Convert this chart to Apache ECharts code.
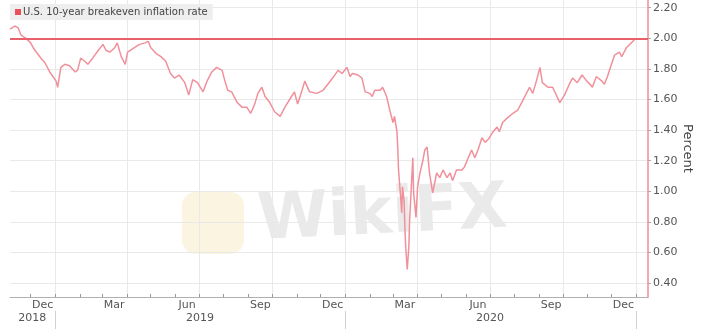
<!DOCTYPE html>
<html>
<head>
<meta charset="utf-8">
<script src="https://cdn.jsdelivr.net/npm/echarts@6/dist/echarts.min.js"></script>
<style>
html,body{margin:0;padding:0;background:#fff;}
#chart{width:720px;height:329px;}
</style>
</head>
<body>
<div id="chart"></div>
<script>
// ---- data ----
var seriesName = 'U.S. 10-year breakeven inflation rate';
var dates = [
 '2018-11-05','2018-11-11','2018-11-15','2018-11-19','2018-11-25','2018-12-01','2018-12-04','2018-12-08','2018-12-14','2018-12-19',
 '2018-12-25','2018-12-29','2019-01-02','2019-01-04','2019-01-08','2019-01-13','2019-01-19','2019-01-26','2019-01-29','2019-02-02',
 '2019-02-07','2019-02-11','2019-02-17','2019-02-24','2019-03-02','2019-03-06','2019-03-11','2019-03-17','2019-03-20','2019-03-25',
 '2019-03-30','2019-04-02','2019-04-11','2019-04-17','2019-04-24','2019-04-28','2019-05-01','2019-05-08','2019-05-14','2019-05-20',
 '2019-05-26','2019-05-31','2019-06-06','2019-06-13','2019-06-18','2019-06-23','2019-06-29','2019-07-06','2019-07-11','2019-07-17',
 '2019-07-23','2019-07-30','2019-08-02','2019-08-06','2019-08-11','2019-08-18','2019-08-24','2019-08-30','2019-09-04','2019-09-09',
 '2019-09-13','2019-09-18','2019-09-22','2019-09-28','2019-10-04','2019-10-11','2019-10-17','2019-10-23','2019-10-29','2019-11-02',
 '2019-11-07','2019-11-11','2019-11-17','2019-11-26','2019-12-04','2019-12-10','2019-12-16','2019-12-23','2019-12-28','2020-01-03',
 '2020-01-07','2020-01-10','2020-01-17','2020-01-22','2020-01-26','2020-02-01','2020-02-04','2020-02-07','2020-02-14','2020-02-17',
 '2020-02-22','2020-02-26','2020-03-01','2020-03-03','2020-03-06','2020-03-07','2020-03-08','2020-03-11','2020-03-12','2020-03-13',
 '2020-03-15','2020-03-16','2020-03-17','2020-03-19','2020-03-21','2020-03-22','2020-03-25','2020-03-26','2020-03-27','2020-03-30',
 '2020-04-01','2020-04-04','2020-04-08','2020-04-10','2020-04-13','2020-04-16','2020-04-20','2020-04-25','2020-04-29','2020-05-03',
 '2020-05-08','2020-05-12','2020-05-15','2020-05-20','2020-05-27','2020-05-30','2020-06-03','2020-06-08','2020-06-12','2020-06-16',
 '2020-06-21','2020-06-25','2020-06-29','2020-07-05','2020-07-10','2020-07-13','2020-07-17','2020-07-23','2020-07-30','2020-08-05',
 '2020-08-10','2020-08-16','2020-08-20','2020-08-24','2020-08-29','2020-09-02','2020-09-05','2020-09-12','2020-09-18','2020-09-27',
 '2020-10-03','2020-10-09','2020-10-13','2020-10-19','2020-10-25','2020-10-31','2020-11-04','2020-11-07','2020-11-12','2020-11-19',
 '2020-11-22','2020-11-26','2020-12-01','2020-12-05','2020-12-11','2020-12-14','2020-12-20','2020-12-26','2020-12-30'
];
var values = [
 2.06,2.08,2.07,2.02,2.00,1.97,1.94,1.91,1.87,1.84,
 1.78,1.75,1.72,1.68,1.81,1.83,1.82,1.78,1.79,1.87,
 1.85,1.83,1.87,1.92,1.96,1.92,1.91,1.94,1.97,1.88,
 1.83,1.91,1.94,1.96,1.97,1.98,1.94,1.90,1.88,1.85,
 1.77,1.74,1.76,1.71,1.63,1.73,1.71,1.65,1.72,1.78,
 1.81,1.79,1.73,1.66,1.65,1.58,1.55,1.55,1.51,1.57,
 1.64,1.68,1.62,1.58,1.52,1.49,1.55,1.60,1.65,1.57,
 1.65,1.72,1.65,1.64,1.66,1.70,1.74,1.79,1.77,1.81,
 1.75,1.77,1.76,1.74,1.65,1.64,1.62,1.66,1.66,1.68,
 1.62,1.53,1.45,1.49,1.39,1.29,1.14,0.94,0.86,1.03,
 0.94,0.77,0.64,0.49,0.64,0.81,1.12,1.22,0.99,0.83,
 1.03,1.12,1.21,1.27,1.29,1.12,0.99,1.12,1.09,1.14,
 1.09,1.12,1.07,1.14,1.14,1.16,1.21,1.27,1.22,1.27,
 1.35,1.32,1.34,1.39,1.42,1.39,1.45,1.48,1.51,1.53,
 1.58,1.64,1.68,1.64,1.73,1.81,1.71,1.68,1.68,1.58,
 1.63,1.70,1.74,1.71,1.76,1.72,1.70,1.68,1.75,1.72,
 1.70,1.75,1.83,1.89,1.91,1.88,1.94,1.97,1.99
];
var targetLevel = 2.0;
var yTicks = [0.4,0.6,0.8,1.0,1.2,1.4,1.6,1.8,2.0,2.2];
var monthLabelDates = ['2018-12-16','2019-03-16','2019-06-16','2019-09-16','2019-12-16','2020-03-16','2020-06-16','2020-09-16','2020-12-16'];
var monthLabels = ['Dec','Mar','Jun','Sep','Dec','Mar','Jun','Sep','Dec'];
var monthStarts = ['2018-12-01','2019-01-01','2019-02-01','2019-03-01','2019-04-01','2019-05-01','2019-06-01','2019-07-01','2019-08-01','2019-09-01','2019-10-01','2019-11-01','2019-12-01',
 '2020-01-01','2020-02-01','2020-03-01','2020-04-01','2020-05-01','2020-06-01','2020-07-01','2020-08-01','2020-09-01','2020-10-01','2020-11-01','2020-12-01','2021-01-01'];
var quarterStarts = ['2019-01-01','2019-04-01','2019-07-01','2019-10-01','2020-01-01','2020-04-01','2020-07-01','2020-10-01','2021-01-01'];
var yearLabelDates = ['2018-12-03','2019-07-02','2020-07-01'];
var yearLabels = ['2018','2019','2020'];
var yearStarts = ['2019-01-01','2020-01-01','2021-01-01'];
var xMin = '2018-11-05';
var xMax = '2021-01-16';

// ---- chart ----
var chart = echarts.init(document.getElementById('chart'), null, {renderer: 'canvas'});
var P = function (s) { return echarts.time.parse(s).getTime(); };
var monthMap = {}; monthLabelDates.forEach(function (d, i) { monthMap[P(d)] = monthLabels[i]; });
var yearMap = {}; yearLabelDates.forEach(function (d, i) { yearMap[P(d)] = yearLabels[i]; });
var FONT = 'DejaVu Sans';
var gridColor = '#e9e9e9';
var tMin = P(xMin), tMax = P(xMax);

var option = {
  animation: false,
  backgroundColor: '#ffffff',
  textStyle: {fontFamily: FONT},
  grid: {left: 10, right: 72, top: 0, bottom: 32, containLabel: false},
  legend: {
    left: 10, top: 4, padding: [3, 5, 3, 5],
    backgroundColor: '#eeeeee',
    icon: 'rect', itemWidth: 6, itemHeight: 6, itemGap: 4,
    textStyle: {fontFamily: FONT, fontSize: 10, color: '#444', padding: [0, 0, 0, -3]},
    data: [{name: seriesName, itemStyle: {color: '#e8505a'}}]
  },
  xAxis: [
    {
      type: 'value', min: tMin, max: tMax, position: 'bottom',
      axisLine: {show: true, lineStyle: {color: '#b0b0b0', width: 1}},
      axisTick: {show: true, inside: true, length: 3, customValues: monthStarts.map(P), lineStyle: {color: '#999'}},
      axisLabel: {show: true, customValues: monthLabelDates.map(P), margin: 3, color: '#555', fontSize: 11, fontFamily: FONT,
        formatter: function (v) { return monthMap[v] || ''; }},
      splitLine: {show: false}
    },
    {
      type: 'value', min: tMin, max: tMax, position: 'bottom',
      axisLine: {show: false},
      axisTick: {show: false, customValues: quarterStarts.map(P)},
      axisLabel: {show: false},
      splitLine: {show: true, lineStyle: {color: gridColor, width: 1}}
    },
    {
      type: 'value', min: tMin, max: tMax, position: 'bottom', offset: 14,
      axisLine: {show: false},
      axisTick: {show: true, length: 18, customValues: yearStarts.map(P), lineStyle: {color: '#d0d0d0'}},
      axisLabel: {show: true, customValues: yearLabelDates.map(P), margin: 2, color: '#555', fontSize: 11, fontFamily: FONT,
        formatter: function (v) { return yearMap[v] || ''; }},
      splitLine: {show: false}
    }
  ],
  yAxis: {
    type: 'value', position: 'right', min: 0.31, max: 2.25,
    name: 'Percent', nameLocation: 'middle', nameRotate: -90, nameGap: 33, nameMoveOverlap: false,
    nameTextStyle: {fontFamily: FONT, fontSize: 13, color: '#444'},
    axisLine: {show: true, lineStyle: {color: '#f08c96', width: 1.5}},
    axisTick: {show: true, length: 3, customValues: yTicks, lineStyle: {color: '#aaa'}},
    axisLabel: {customValues: yTicks, margin: 5, color: '#555', fontSize: 11, fontFamily: FONT,
      formatter: function (v) { return v.toFixed(2); }},
    splitLine: {show: true, lineStyle: {color: gridColor, width: 1}}
  },
  graphic: [
    {type: 'rect', left: 182, top: 192, z: 0, shape: {width: 62, height: 62, r: 14},
      style: {fill: '#f7e9c4', opacity: 0.5}},
    {type: 'text', left: 256, top: 178, z: 0, rotation: 0.05,
      style: {text: 'WikiFX', fill: '#dcdcdc', opacity: 0.6, font: 'bold 64px "DejaVu Sans"'}}
  ],
  series: [{
    name: seriesName, type: 'line', xAxisIndex: 0,
    showSymbol: false, symbol: 'none',
    lineStyle: {color: '#f0909a', width: 1.5},
    itemStyle: {color: '#e8505a'},
    data: dates.map(function (d, i) { return [P(d), values[i]]; }),
    z: 3,
    markLine: {
      silent: true, symbol: 'none', label: {show: false},
      lineStyle: {color: '#e8606a', width: 2, type: 'solid'},
      data: [{yAxis: targetLevel}]
    }
  }]
};
chart.setOption(option);
</script>
</body>
</html>
